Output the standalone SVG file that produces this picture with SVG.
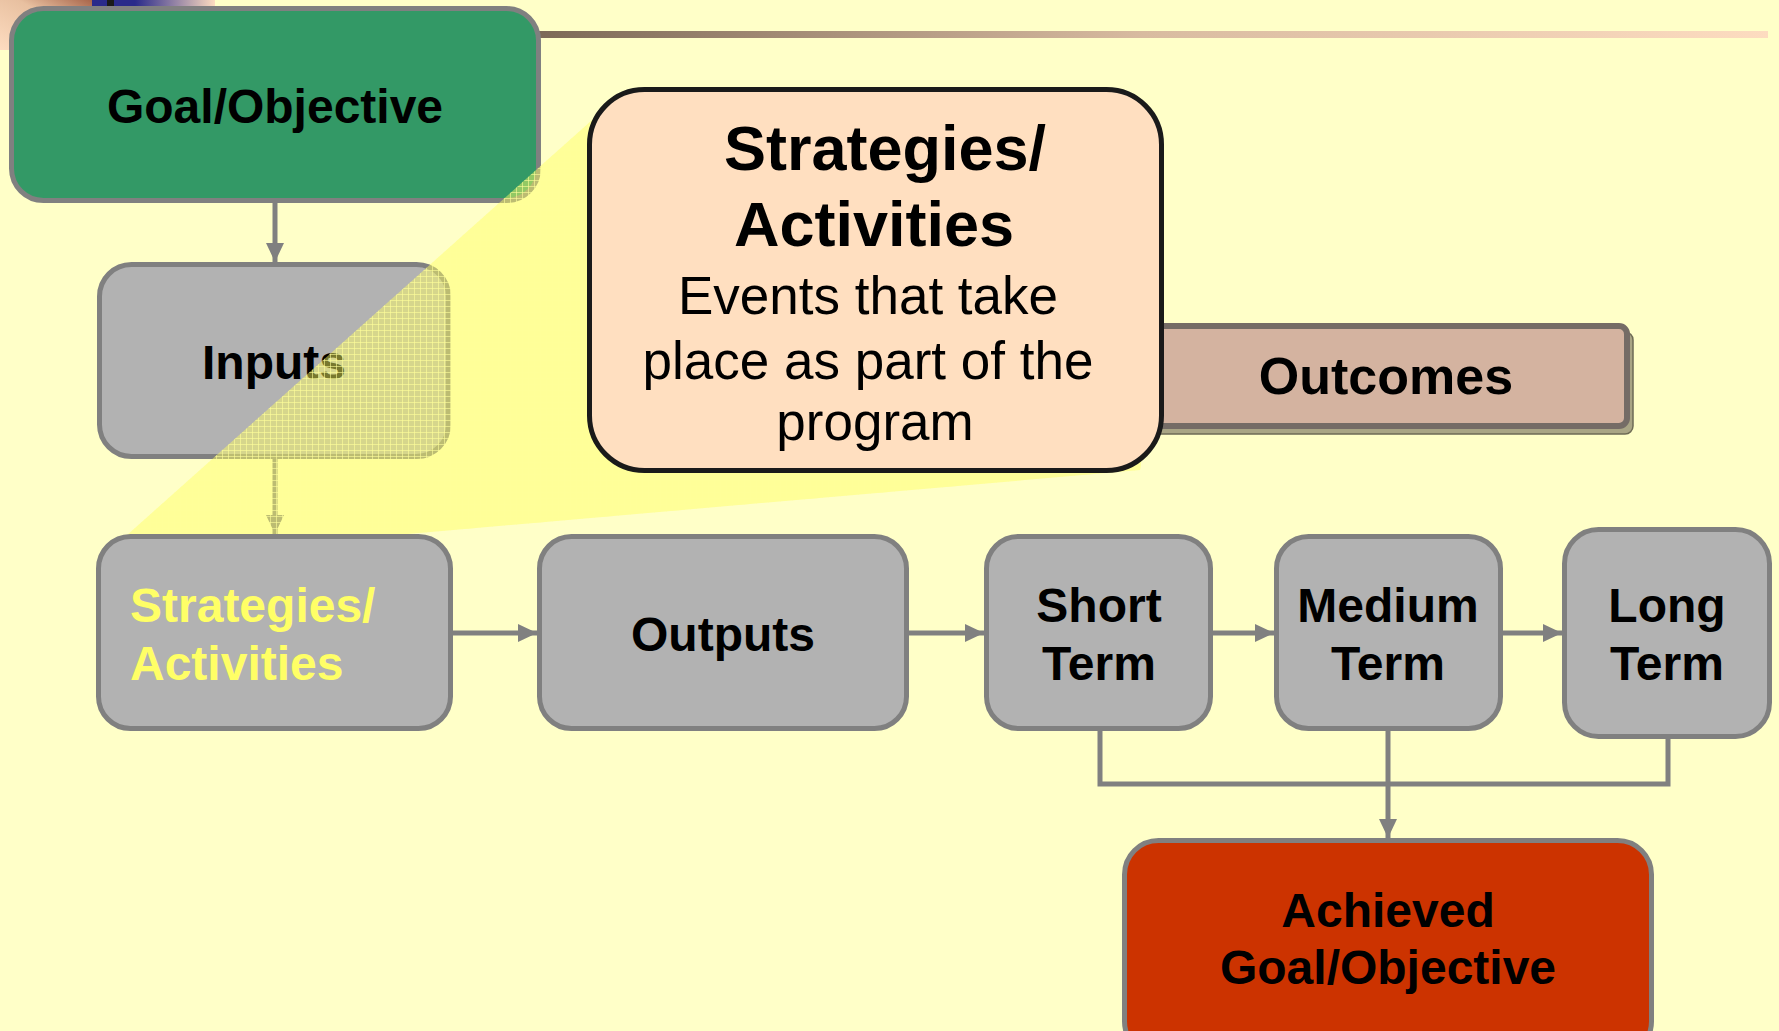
<svg xmlns="http://www.w3.org/2000/svg" width="1779" height="1031" viewBox="0 0 1779 1031">
  <defs>
    <style>
      .box { fill: #b2b2b2; stroke: #808080; stroke-width: 5; }
      .lbl { font-family: "Liberation Sans", Arial, sans-serif; font-weight: bold; font-size: 48px; fill: #000; text-anchor: middle; }
      .conn { fill: none; stroke: #808080; stroke-width: 5; }
      .call { font-family: "Liberation Sans", Arial, sans-serif; fill: #000; text-anchor: middle; }
    </style>
    <marker id="arr" markerUnits="userSpaceOnUse" markerWidth="20" markerHeight="18" refX="19" refY="9" orient="auto">
      <path d="M0,0 L19,9 L0,18 Z" fill="#808080"/>
    </marker>
    <linearGradient id="barGrad" x1="0" y1="0" x2="1" y2="0">
      <stop offset="0" stop-color="#7a6755"/>
      <stop offset="0.5" stop-color="#d8bba0"/>
      <stop offset="1" stop-color="#fddcc0"/>
    </linearGradient>
    <linearGradient id="cornerGrad" x1="0" y1="1" x2="1" y2="0">
      <stop offset="0" stop-color="#fddcc0"/>
      <stop offset="0.6" stop-color="#e8c0a0"/>
      <stop offset="1" stop-color="#a8654a"/>
    </linearGradient>
    <linearGradient id="navyGrad" x1="0" y1="0" x2="1" y2="0">
      <stop offset="0" stop-color="#2a2a8a"/>
      <stop offset="0.35" stop-color="#2a2a8a"/>
      <stop offset="1" stop-color="#fddcc0"/>
    </linearGradient>
    <pattern id="grid" width="6" height="6" patternUnits="userSpaceOnUse">
      <path d="M0,0.5 H6 M0.5,0 V6" stroke="#ffff9a" stroke-width="1" fill="none" opacity="0.6"/>
    </pattern>
  </defs>

  <!-- background -->
  <rect x="0" y="0" width="1779" height="1031" fill="#ffffc8"/>

  <!-- top-left decoration and header bar -->
  <rect x="0" y="0" width="92" height="50" fill="url(#cornerGrad)"/>
  <rect x="92" y="0" width="123" height="30" fill="url(#navyGrad)"/>
  <rect x="107" y="0" width="7" height="30" fill="#1a1a1a"/>
  <rect x="520" y="31" width="1248" height="7" fill="url(#barGrad)"/>

  <!-- connectors -->
  <g id="connectors">
    <line class="conn" x1="275" y1="203" x2="275" y2="262" marker-end="url(#arr)"/>
    <line class="conn" x1="275" y1="459" x2="275" y2="534" marker-end="url(#arr)"/>
    <line class="conn" x1="453" y1="633" x2="537" y2="633" marker-end="url(#arr)"/>
    <line class="conn" x1="909" y1="633" x2="984" y2="633" marker-end="url(#arr)"/>
    <line class="conn" x1="1213" y1="633" x2="1274" y2="633" marker-end="url(#arr)"/>
    <line class="conn" x1="1503" y1="633" x2="1562" y2="633" marker-end="url(#arr)"/>
    <polyline class="conn" points="1100,731 1100,784 1668,784 1668,739"/>
    <line class="conn" x1="1388" y1="731" x2="1388" y2="838" marker-end="url(#arr)"/>
  </g>

  <g id="goal">
    <rect x="11.5" y="8.5" width="527" height="192" rx="32" fill="#339966" stroke="#808080" stroke-width="5"/>
    <text class="lbl" x="275" y="123">Goal/Objective</text>
  </g>

  <g id="inputs">
    <rect class="box" x="99.5" y="264.5" width="349" height="192" rx="32"/>
    <text class="lbl" x="274" y="379">Inputs</text>
  </g>

  <!-- spotlight wedge -->
  <g id="spotlight">
    <polygon points="98,561 600,113 1150,400 1140,470" fill="#ffff62" fill-opacity="0.47"/>
    <polygon points="98,561 600,113 1150,400 1140,470" fill="url(#grid)"/>
  </g>

  <g id="strategies">
    <rect class="box" x="98.5" y="536.5" width="352" height="192" rx="32"/>
    <text class="lbl" x="130" y="622" style="text-anchor:start;fill:#ffff66">Strategies/</text>
    <text class="lbl" x="130" y="680" style="text-anchor:start;fill:#ffff66">Activities</text>
  </g>

  <g id="outputs">
    <rect class="box" x="539.5" y="536.5" width="367" height="192" rx="32"/>
    <text class="lbl" x="723" y="651">Outputs</text>
  </g>

  <g id="short-term">
    <rect class="box" x="986.5" y="536.5" width="224" height="192" rx="32"/>
    <text class="lbl" x="1099" y="622">Short</text>
    <text class="lbl" x="1099" y="680">Term</text>
  </g>

  <g id="medium-term">
    <rect class="box" x="1276.5" y="536.5" width="224" height="192" rx="32"/>
    <text class="lbl" x="1388" y="622">Medium</text>
    <text class="lbl" x="1388" y="680">Term</text>
  </g>

  <g id="long-term">
    <rect class="box" x="1564.5" y="529.5" width="205" height="207" rx="34"/>
    <text class="lbl" x="1667" y="622">Long</text>
    <text class="lbl" x="1667" y="680">Term</text>
  </g>

  <g id="achieved">
    <rect x="1124.5" y="840.5" width="527" height="215" rx="34" fill="#cc3300" stroke="#808080" stroke-width="5"/>
    <text class="lbl" x="1388" y="927">Achieved</text>
    <text class="lbl" x="1388" y="984">Goal/Objective</text>
  </g>

  <g id="outcomes">
    <rect x="1126" y="332" width="507" height="102" rx="8" fill="#a9a585" stroke="#6e6b55" stroke-width="1.5"/>
    <rect x="1120" y="326" width="507" height="100" rx="8" fill="#d4b3a0" stroke="#756c66" stroke-width="6"/>
    <text class="lbl" x="1386" y="394" style="font-size:52px">Outcomes</text>
  </g>

  <g id="callout">
    <rect x="589.5" y="89.5" width="572" height="381" rx="55" fill="#ffdfc0" stroke="#1a1a1a" stroke-width="5"/>
    <text class="call" x="885" y="170" style="font-size:63px;font-weight:bold">Strategies/</text>
    <text class="call" x="874" y="246" style="font-size:63px;font-weight:bold">Activities</text>
    <text class="call" x="868" y="314" style="font-size:53px">Events that take</text>
    <text class="call" x="868" y="379" style="font-size:53px">place as part of the</text>
    <text class="call" x="875" y="440" style="font-size:53px">program</text>
  </g>
</svg>
